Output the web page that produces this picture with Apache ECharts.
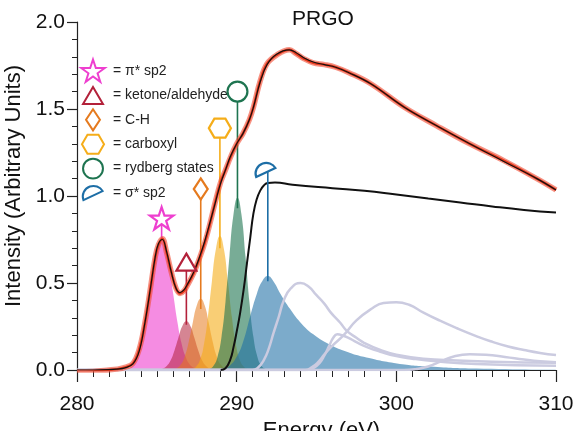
<!DOCTYPE html>
<html>
<head>
<meta charset="utf-8">
<script src="https://cdn.jsdelivr.net/npm/echarts@6/dist/echarts.min.js"></script>
<style>
  html, body { margin: 0; padding: 0; background: #fff; }
  #main { width: 577px; height: 431px; }
</style>
</head>
<body>
<div id="main"></div>
<script>
var energy = [280, 281, 282, 282.5, 283, 283.5, 283.9, 284.25, 284.6, 284.9,
  285.1, 285.35, 285.6, 285.9, 286.2, 286.45, 286.7, 286.9, 287.3, 287.7,
  288.0, 288.35, 288.7, 289.0, 289.3, 289.6, 290.0, 290.4, 290.8, 291.05,
  291.47, 291.9, 292.5, 293.3, 293.7, 294.2, 294.8, 295.5, 296.2, 297.0,
  298.4, 300.5, 302.5, 304.6, 306.7, 308.8, 310];
var measured = [-0.01, -0.008, 0.0, 0.005, 0.015, 0.037, 0.12, 0.27, 0.47, 0.65,
  0.72, 0.755, 0.68, 0.565, 0.47, 0.44, 0.455, 0.485, 0.555, 0.65,
  0.73, 0.85, 0.98, 1.08, 1.15, 1.22, 1.30, 1.36, 1.44, 1.51,
  1.66, 1.76, 1.81, 1.84, 1.82, 1.79, 1.765, 1.755, 1.74, 1.71,
  1.645, 1.51, 1.405, 1.30, 1.205, 1.10, 1.035];
var fitted = [0, 0, 0.002, 0.005, 0.012, 0.035, 0.11, 0.27, 0.47, 0.65,
  0.725, 0.75, 0.685, 0.565, 0.47, 0.445, 0.46, 0.49, 0.56, 0.655,
  0.74, 0.855, 0.975, 1.075, 1.15, 1.225, 1.30, 1.36, 1.44, 1.51,
  1.655, 1.755, 1.815, 1.84, 1.825, 1.795, 1.77, 1.755, 1.74, 1.71,
  1.645, 1.51, 1.405, 1.30, 1.2, 1.1, 1.035];

// fitted components [energy, intensity]
var piPeak = [[282.55, 0], [282.8, 0.001], [283.05, 0.004], [283.3, 0.013], [283.55, 0.033], [283.8, 0.076],
  [284.05, 0.152], [284.3, 0.27], [284.55, 0.422], [284.8, 0.581], [285.05, 0.704], [285.3, 0.75],
  [285.55, 0.704], [285.8, 0.581], [286.05, 0.422], [286.3, 0.27], [286.55, 0.152], [286.8, 0.076],
  [287.05, 0.033], [287.3, 0.013], [287.55, 0.004], [287.8, 0.001], [288.05, 0]];
var ketonePeak = [[284.6, 0], [285.1, 0.002], [285.35, 0.007], [285.6, 0.021], [285.85, 0.053], [286.1, 0.111],
  [286.35, 0.185], [286.6, 0.253], [286.85, 0.28], [287.1, 0.253], [287.35, 0.185], [287.6, 0.111],
  [287.85, 0.053], [288.1, 0.021], [288.35, 0.007], [288.6, 0.002], [289.1, 0]];
var chPeak = [[285.5, 0], [285.75, 0.001], [286.0, 0.003], [286.25, 0.01], [286.5, 0.031], [286.75, 0.078],
  [287.0, 0.162], [287.25, 0.271], [287.5, 0.37], [287.75, 0.41], [288.0, 0.37], [288.25, 0.271],
  [288.5, 0.162], [288.75, 0.078], [289.0, 0.031], [289.25, 0.01], [289.5, 0.003], [289.75, 0.001], [290.0, 0]];
var carboxylPeak = [[286.7, 0], [286.95, 0.001], [287.2, 0.005], [287.45, 0.019], [287.7, 0.058], [287.95, 0.147],
  [288.2, 0.304], [288.45, 0.51], [288.7, 0.695], [288.95, 0.77], [289.2, 0.695], [289.45, 0.51],
  [289.7, 0.304], [289.95, 0.147], [290.2, 0.058], [290.45, 0.019], [290.7, 0.005], [290.95, 0.001], [291.2, 0]];
var rydbergPeak = [[287.8, 0], [288.05, 0.001], [288.3, 0.006], [288.55, 0.024], [288.8, 0.075], [289.05, 0.189],
  [289.3, 0.391], [289.55, 0.655], [289.8, 0.893], [290.05, 0.99], [290.3, 0.893], [290.55, 0.655],
  [290.8, 0.391], [291.05, 0.189], [291.3, 0.075], [291.55, 0.024], [291.8, 0.006], [292.05, 0.001], [292.3, 0]];
var sigmaPeak = [[289.0, 0], [289.5, 0.02], [290.0, 0.076], [290.43, 0.17], [290.85, 0.31], [291.27, 0.44],
  [291.6, 0.51], [291.95, 0.54], [292.3, 0.51], [292.73, 0.44], [293.35, 0.35], [293.98, 0.275],
  [294.8, 0.205], [295.86, 0.145], [296.9, 0.105], [297.95, 0.076], [300.04, 0.038], [302.1, 0.02],
  [305, 0.008], [310, 0.002]];

// broad sigma* resonances (grey)
var broad1 = [[280, 0], [291.0, 0], [291.3, 0.01], [291.7, 0.057], [292.0, 0.12], [292.3, 0.21], [292.65, 0.31],
  [292.95, 0.4], [293.4, 0.47], [294.0, 0.5], [294.5, 0.48], [295.0, 0.43], [295.5, 0.38], [295.9, 0.33],
  [296.5, 0.27], [296.9, 0.225], [297.5, 0.185], [298.0, 0.155], [299.0, 0.115], [300.0, 0.088],
  [301.7, 0.065], [303.8, 0.055], [306.0, 0.048], [310, 0.042]];
var broad2 = [[280, 0], [294.4, 0], [294.8, 0.01], [295.2, 0.04], [295.5, 0.085], [295.8, 0.14], [296.05, 0.185],
  [296.3, 0.205], [296.6, 0.2], [297.0, 0.185], [297.5, 0.16], [298.2, 0.13], [299.0, 0.105],
  [300.0, 0.08], [301.0, 0.065], [302.5, 0.05], [305, 0.035], [310, 0.025]];
var broad3 = [[280, 0], [294.3, 0], [294.7, 0.015], [295.1, 0.045], [295.5, 0.09], [296.0, 0.14], [296.7, 0.2],
  [297.5, 0.285], [298.5, 0.355], [299.2, 0.385], [300.0, 0.39], [300.8, 0.375], [301.7, 0.33],
  [302.7, 0.285], [303.8, 0.24], [305.0, 0.195], [305.9, 0.165], [307.0, 0.135], [308.0, 0.115],
  [309.0, 0.098], [310, 0.086]];
var broad4 = [[280, 0], [300.5, 0], [301.2, 0.005], [302, 0.02], [302.8, 0.05], [303.6, 0.078], [304.6, 0.09],
  [305.6, 0.087], [306.8, 0.075], [308, 0.06], [309, 0.05], [310, 0.045]];

// ionisation step
var stepEdge = [[289.0, 0], [289.3, 0.01], [289.6, 0.06], [289.8, 0.13], [290.0, 0.22], [290.22, 0.33],
  [290.45, 0.47], [290.64, 0.61], [290.85, 0.76], [291.05, 0.9], [291.25, 0.98], [291.47, 1.03],
  [291.7, 1.06], [291.95, 1.075], [292.4, 1.077], [293.5, 1.065], [296, 1.045], [298, 1.03],
  [300, 1.008], [302, 0.985], [304, 0.963], [306, 0.94], [308, 0.92], [310, 0.905]];

// peak markers
var markerNames = ['= π* sp2', '= ketone/aldehyde', '= C-H', '= carboxyl', '= rydberg states', '= σ* sp2'];
var markerEnergy = [285.3, 286.85, 287.75, 288.95, 290.05, 291.95];
var stemBottom = [0.75, 0.26, 0.35, 0.70, 0.93, 0.51];
var markerTop = [0.87, 0.62, 1.04, 1.39, 1.60, 1.15];

var FONT = 'Liberation Sans, Arial, sans-serif';
var peakColors = ['#ee3fcf', '#b3213a', '#e57a1e', '#f5ad19', '#1e7450', '#1d6ea6'];
var fillColors = ['rgba(238,63,207,0.6)', 'rgba(179,33,58,0.55)', 'rgba(229,122,30,0.55)',
  'rgba(245,173,25,0.6)', 'rgba(30,116,80,0.6)', 'rgba(29,110,166,0.58)'];
// every shape sits in the same 100x100 box (the two leading moves fix the box)
var BOX = 'path://M0 0 M100 100 ';
var symbols = [
  BOX + 'M50 2 L61.8 37.6 L99 37.6 L69 59.5 L80.4 95 L50 73 L19.6 95 L31 59.5 L1 37.6 L38.2 37.6 Z',
  BOX + 'M50 14.5 L91.5 85.5 L8.5 85.5 Z',
  BOX + 'M50 6 L79 50 L50 94 L21 50 Z',
  BOX + 'M4 50 L27 10.5 L73 10.5 L96 50 L73 89.5 L27 89.5 Z',
  BOX + 'M50 8.5 A41.5 41.5 0 1 1 50 91.5 A41.5 41.5 0 1 1 50 8.5 Z',
  BOX + 'M10 80 A44.5 44.5 0 0 1 90 42 Z'
];

var myChart = echarts.init(document.getElementById('main'));
var series = [];

[piPeak, ketonePeak, chPeak, carboxylPeak, rydbergPeak, sigmaPeak].forEach(function (pk, i) {
  series.push({
    type: 'line', data: pk, smooth: true, symbol: 'none', silent: true, z: 2,
    lineStyle: { width: 0 },
    areaStyle: { color: fillColors[i], opacity: 1 }
  });
});

[broad1, broad2, broad3, broad4].forEach(function (pk) {
  series.push({
    type: 'line', data: pk, smooth: true, symbol: 'none', silent: true, z: 3,
    lineStyle: { color: '#cbcbe0', width: 2.5 }
  });
});

series.push({
  type: 'line', data: stepEdge, smooth: true, symbol: 'none', silent: true, z: 4,
  lineStyle: { color: '#111', width: 2 }
});

// stems
markerEnergy.forEach(function (e, i) {
  series.push({
    type: 'line', data: [[e, stemBottom[i]], [e, markerTop[i]]], symbol: 'none', silent: true, z: 5,
    lineStyle: { color: peakColors[i], width: 1.6 }
  });
});

var dataPairs = energy.map(function (e, i) { return [e, measured[i]]; });
var fitPairs = energy.map(function (e, i) { return [e, fitted[i]]; });

series.push({
  type: 'line', data: dataPairs, smooth: 0.4, symbol: 'none', silent: true, z: 6,
  lineStyle: { color: 'rgba(240,75,50,0.6)', width: 5.5 }
});
series.push({
  type: 'line', data: dataPairs, smooth: 0.4, symbol: 'none', silent: true, z: 6,
  lineStyle: { color: '#e8381c', width: 2.5 }
});
series.push({
  type: 'line', data: fitPairs, smooth: 0.4, symbol: 'none', silent: true, z: 7,
  lineStyle: { color: '#111', width: 1.2 }
});

// markers (also the legend entries)
markerNames.forEach(function (n, i) {
  series.push({
    name: n, type: 'scatter', z: 10,
    data: [[markerEnergy[i], markerTop[i]]],
    symbol: symbols[i], symbolSize: 24,
    symbolOffset: i === 5 ? [-2, 0] : [0, 0],
    itemStyle: { color: '#fff', borderColor: peakColors[i], borderWidth: 2.2, opacity: 1 }
  });
});

option = {
  animation: false,
  title: {
    text: 'PRGO', left: 318, top: 4, textAlign: 'center',
    textStyle: { fontFamily: FONT, fontSize: 21, fontWeight: 'normal', color: '#111' }
  },
  legend: {
    orient: 'vertical', left: 75, top: 53,
    itemWidth: 24, itemHeight: 24, itemGap: -1.6,
    selectedMode: false,
    textStyle: { fontFamily: FONT, fontSize: 14, color: '#222', padding: [0, 0, 0, 3] },
    data: markerNames.map(function (n, i) { return { name: n, icon: symbols[i] }; })
  },
  grid: { left: 77, right: 21, top: 22, bottom: 61, containLabel: false, outerBoundsMode: 'none' },
  xAxis: {
    type: 'value', min: 280, max: 310, interval: 10,
    name: 'Energy (eV)', nameLocation: 'middle', nameGap: 50,
    nameTextStyle: { fontFamily: FONT, fontSize: 22, color: '#111', padding: [0, 0, 0, 10] },
    axisLine: { lineStyle: { color: '#222', width: 1.2 } },
    axisTick: { length: 12, lineStyle: { color: '#222', width: 1.2 } },
    minorTick: { show: true, splitNumber: 10, length: 7, lineStyle: { color: '#222', width: 1 } },
    axisLabel: { fontFamily: FONT, fontSize: 21, color: '#111', margin: 24 },
    splitLine: { show: false }
  },
  yAxis: {
    type: 'value', min: 0, max: 2, interval: 0.5,
    name: 'Intensity (Arbitrary Units)', nameLocation: 'middle', nameGap: 40,
    nameTextStyle: { fontFamily: FONT, fontSize: 22, color: '#111', padding: [0, 0, 0, 20] },
    axisLine: { show: true, lineStyle: { color: '#222', width: 1.2 } },
    axisTick: { show: true, length: 10, lineStyle: { color: '#222', width: 1.2 } },
    minorTick: { show: true, splitNumber: 5, length: 5, lineStyle: { color: '#222', width: 1 } },
    axisLabel: {
      fontFamily: FONT, fontSize: 21, color: '#111', margin: 12,
      formatter: function (v) { return v.toFixed(1); }
    },
    splitLine: { show: false }
  },
  series: series
};

myChart.setOption(option);
</script>
</body>
</html>
